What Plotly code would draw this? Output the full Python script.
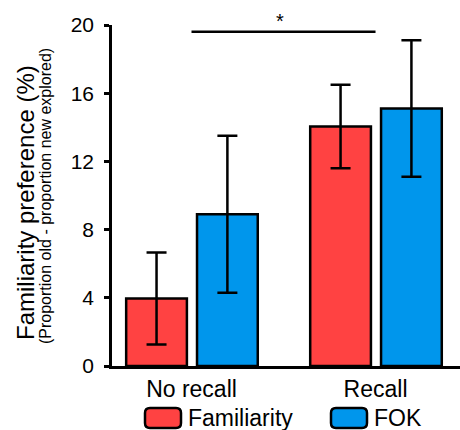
import plotly.graph_objects as go

# ---- data ----
groups = ["No recall", "Recall"]
group_pos = [0, 1]
familiarity = [3.96, 14.05]
familiarity_err = [2.7, 2.45]
fok = [8.9, 15.1]
fok_err = [4.6, 4.0]
y_ticks = [0, 4, 8, 12, 16, 20]
series_names = ["Familiarity", "FOK"]
colors = ["#FF4242", "#0096EC"]
sig_label = "*"

FONT = "Liberation Sans, Arial, sans-serif"
W, H = 460, 430
ML, MR, MT, MB = 112, 0, 25, 64
PW, PH = W - ML - MR, H - MT - MB


def px(x):
    return (x - ML) / PW


def py(y):
    return (H - MB - y) / PH


fig = go.Figure()
bw = 0.33
offsets = [-0.355, 0.03]
for name, vals, errs, col, off in zip(series_names, [familiarity, fok],
                                      [familiarity_err, fok_err], colors, offsets):
    fig.add_trace(go.Bar(
        x=group_pos, y=vals, name=name, width=bw, offset=off,
        marker=dict(color=col, line=dict(color="black", width=2.5)),
        error_y=dict(type="data", array=errs, visible=True, color="black",
                     thickness=2.5, width=10),
        showlegend=False,
    ))

# significance bar
fig.add_shape(type="line", xref="x", yref="y", x0=group_pos[0], x1=group_pos[1],
              y0=19.6, y1=19.6, line=dict(color="black", width=2.5))
fig.add_annotation(x=px(280), xref="paper", y=py(21), yref="paper", text=sig_label,
                   showarrow=False, font=dict(family=FONT, size=20, color="black"),
                   xanchor="center", yanchor="middle")

# axis titles
fig.add_annotation(x=px(25), y=py(203), xref="paper", yref="paper",
                   text="Familiarity preference (%)", textangle=-90, showarrow=False,
                   font=dict(family=FONT, size=24, color="black"),
                   xanchor="center", yanchor="middle")
fig.add_annotation(x=px(45), y=py(196), xref="paper", yref="paper",
                   text="(Proportion old - proportion new explored)", textangle=-90,
                   showarrow=False, font=dict(family=FONT, size=16, color="black"),
                   xanchor="center", yanchor="middle")


# custom legend
def rrect(x0, y0, x1, y1, r=5):
    rx, ry = r / PW, r / PH
    X0, X1 = px(x0), px(x1)
    Yt, Yb = py(y0), py(y1)
    return (f"M {X0+rx},{Yt} L {X1-rx},{Yt} Q {X1},{Yt} {X1},{Yt-ry} "
            f"L {X1},{Yb+ry} Q {X1},{Yb} {X1-rx},{Yb} L {X0+rx},{Yb} "
            f"Q {X0},{Yb} {X0},{Yb+ry} L {X0},{Yt-ry} Q {X0},{Yt} {X0+rx},{Yt} Z")


leg_x = [145, 331]
for name, col, lx in zip(series_names, colors, leg_x):
    fig.add_shape(type="path", xref="paper", yref="paper", path=rrect(lx, 408, lx + 36, 428),
                  fillcolor=col, line=dict(color="black", width=2.5))
    fig.add_annotation(x=px(lx + 41), y=py(418), xref="paper", yref="paper", text=name,
                       showarrow=False, xanchor="left", yanchor="middle",
                       font=dict(family=FONT, size=23, color="black"))

fig.update_layout(
    width=W, height=H,
    margin=dict(l=ML, r=MR, t=MT, b=MB, pad=0),
    plot_bgcolor="white", paper_bgcolor="white",
    barmode="overlay",
    xaxis=dict(range=[-0.432, 1.459], tickmode="array", tickvals=group_pos, ticktext=groups,
               showgrid=False, zeroline=False, showline=True, linecolor="black", linewidth=2.5,
               ticks="", tickfont=dict(family=FONT, size=23, color="black"),
               ticklabelstandoff=1),
    yaxis=dict(range=[0, 20], tickmode="array", tickvals=y_ticks,
               showgrid=False, zeroline=False, showline=True, linecolor="black", linewidth=2.5,
               ticks="outside", ticklen=5, tickwidth=2.5, tickcolor="black",
               tickfont=dict(family=FONT, size=21, color="black"), ticklabelstandoff=6),
)

fig.write_html("out.html")
